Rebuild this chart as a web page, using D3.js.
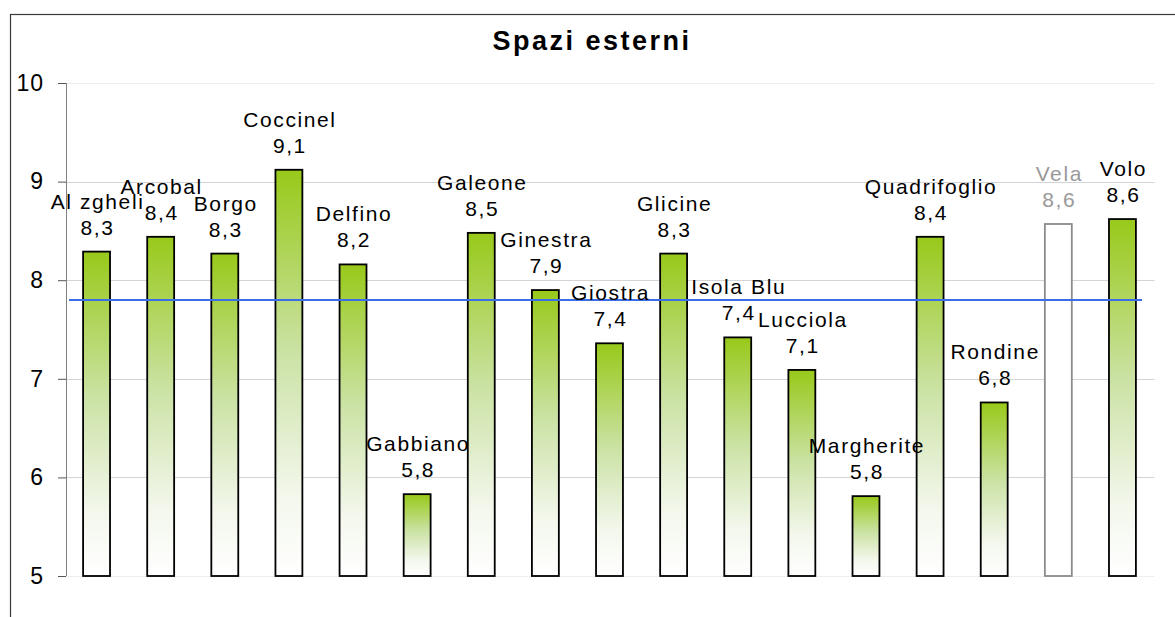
<!DOCTYPE html>
<html><head><meta charset="utf-8">
<script src="https://cdn.jsdelivr.net/npm/d3@7"></script>
<style>
body{margin:0;background:#fff}
svg{display:block;font-family:"Liberation Sans",Arial,sans-serif}
</style></head>
<body><svg width="1175" height="617"></svg>
<script>
const title = "Spazi esterni";
const categories = ["Al zgheli","Arcobal","Borgo","Coccinel","Delfino","Gabbiano","Galeone","Ginestra","Giostra","Glicine","Isola Blu","Lucciola","Margherite","Quadrifoglio","Rondine","Vela","Volo"];
const values = [8.29,8.44,8.27,9.12,8.16,5.83,8.48,7.90,7.36,8.27,7.42,7.09,5.81,8.44,6.76,8.57,8.62];
const outlinedCategories = ["Vela"];
const averageValue = [7.8];
const yTicks = [5,6,7,8,9,10];

const svg = d3.select("svg");
const plot = {left: 64.5, right: 1154.5, top: 83, bottom: 576};

// chart frame
svg.append("rect").attr("x",10.5).attr("y",14.5).attr("width",1200).attr("height",700)
  .attr("fill","none").attr("stroke","#3a3a3a").attr("stroke-width",1.2);

const x = d3.scaleBand().domain(categories).range([plot.left, plot.right]).paddingInner(0.58).paddingOuter(0.29);
const y = d3.scaleLinear().domain([5,10]).range([plot.bottom, plot.top]);

// gradient
const defs = svg.append("defs");
const grad = defs.append("linearGradient").attr("id","g").attr("x1",0).attr("y1",0).attr("x2",0).attr("y2",1);
grad.append("stop").attr("offset","0%").attr("stop-color","#98c91a");
grad.append("stop").attr("offset","45%").attr("stop-color","#cbe2a4");
grad.append("stop").attr("offset","80%").attr("stop-color","#f3f7ec");
grad.append("stop").attr("offset","100%").attr("stop-color","#ffffff");

// gridlines
svg.append("g").selectAll("line").data(yTicks).join("line")
  .attr("x1",66).attr("x2",plot.right)
  .attr("y1",d=>Math.round(y(d))+0.5).attr("y2",d=>Math.round(y(d))+0.5)
  .attr("stroke",d=>(d===5||d===10)?"#eeeeee":"#d4d4d4").attr("stroke-width",1);

// y axis
const yAxis = d3.axisLeft(y).tickValues(yTicks).tickFormat(d3.format("d")).tickSize(8).tickPadding(14);
const ga = svg.append("g").attr("transform","translate(66,0)").call(yAxis);
ga.select(".domain").attr("stroke","#808080").attr("d","M0.5,"+plot.top+"V"+plot.bottom);
ga.selectAll(".tick line").attr("stroke","#555");
ga.selectAll(".tick text").attr("font-size","23px").attr("fill","#000")
  .attr("font-family","'Liberation Sans',Arial,sans-serif").attr("letter-spacing","1px");

// bars
svg.append("g").selectAll("rect").data(categories).join("rect")
  .attr("x",d=>x(d)).attr("width",x.bandwidth())
  .attr("y",(d,i)=>y(values[i])).attr("height",(d,i)=>y(5)-y(values[i]))
  .attr("fill",d=>outlinedCategories.includes(d)?"#ffffff":"url(#g)")
  .attr("stroke",d=>outlinedCategories.includes(d)?"#8c8c8c":"#000")
  .attr("stroke-width",1.8);

// average line
svg.append("line").attr("x1",69).attr("x2",1142)
  .attr("y1",y(averageValue[0])).attr("y2",y(averageValue[0]))
  .attr("stroke","#3a6ee8").attr("stroke-width",2);

// labels
const fmt = v => d3.format(".1f")(v).replace(".",",");
const lab = svg.append("g").attr("font-size","21px").attr("text-anchor","middle").attr("letter-spacing","1.6px");
categories.forEach((c,i)=>{
  const cx = x(c)+x.bandwidth()/2 + 1;
  const top = y(values[i]);
  const col = outlinedCategories.includes(c)?"#999":"#000";
  lab.append("text").attr("x",cx).attr("y",top-43).attr("fill",col).text(c);
  lab.append("text").attr("x",cx).attr("y",top-17).attr("fill",col).text(fmt(values[i]));
});

// title
svg.append("text").attr("x",592).attr("y",50).attr("text-anchor","middle")
  .attr("font-size","27px").attr("font-weight","bold").attr("letter-spacing","2.5px").text(title);
</script>
</body></html>
